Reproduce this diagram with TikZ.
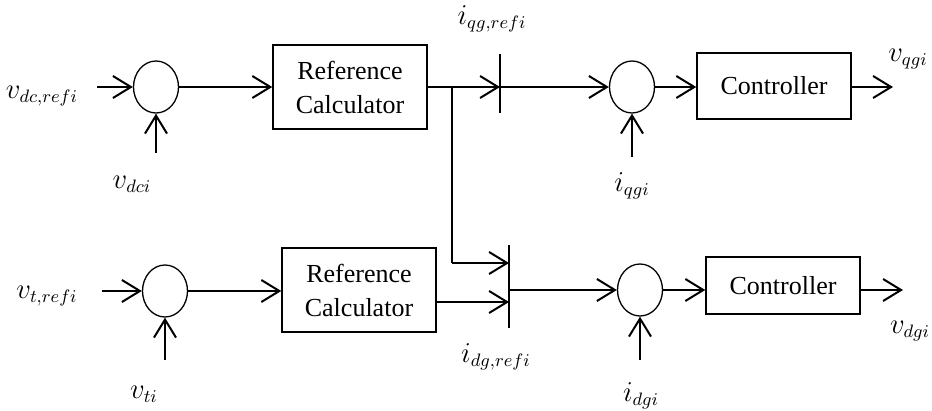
\documentclass[tikz,border=0pt]{standalone}
\usepackage{fontspec}
\setmainfont{Liberation Serif}
\usetikzlibrary{arrows.meta,shapes.geometric}
\tikzset{
  sig/.style={-{Straight Barb[length=9pt,width=11pt]},line width=1pt},
  wire/.style={line width=1pt},
  sumj/.style={ellipse,draw,line width=0.65pt,minimum width=22.5pt,minimum height=26pt,inner sep=0pt},
  blk/.style={draw,line width=0.75pt,minimum width=77pt,align=center,
    font=\rmfamily\fontsize{13}{17}\selectfont},
  bar/.style={line width=1pt},
  lbl/.style={font=\fontsize{13.5}{15}\selectfont,inner sep=0pt},
}
\begin{document}
\begin{tikzpicture}[x=0.5pt,y=-0.5pt]
  \useasboundingbox (0,0) rectangle (932,411);
  % ---- upper branch ----
  \node[sumj] (sum1) at (156,87) {};
  \node[blk,minimum height=42pt] (calc1) at (350,87) {Reference\\Calculator};
  \node[sumj] (sum2) at (632,87) {};
  \node[blk,minimum height=33pt] (ctrl1) at (774,86) {Controller};
  \coordinate (in1) at (97,87);
  \coordinate (fb1) at (156,153);
  \coordinate (j1) at (452,87);
  \coordinate (b1t) at (500,54);
  \coordinate (b1b) at (500,113);
  \coordinate (b1) at (500,87);
  \coordinate (fb2) at (632,157);
  \coordinate (out1) at (893,87);
  \node[lbl] (vdcref) at (42,96) {$v_{dc,refi}$};
  \node[lbl] (vdc) at (132,184) {$v_{dci}$};
  \node[lbl] (iqgref) at (492,19) {$i_{qg,refi}$};
  \node[lbl] (iqg) at (632,186) {$i_{qgi}$};
  \node[lbl] (vqg) at (908,59) {$v_{qgi}$};
  \draw[sig] (in1) -- (sum1.west);
  \draw[sig] (fb1) -- (sum1.south);
  \draw[sig] (sum1.east) -- (calc1.west);
  \draw[sig] (calc1.east) -- (b1);
  \draw[bar] (b1t) -- (b1b);
  \draw[sig] (b1) -- (sum2.west);
  \draw[sig] (fb2) -- (sum2.south);
  \draw[sig] (sum2.east) -- (ctrl1.west |- sum2);
  \draw[sig] (ctrl1.east |- out1) -- (out1);
  % ---- lower branch ----
  \node[sumj] (sum3) at (165,291) {};
  \node[blk,minimum height=42pt] (calc2) at (359,290) {Reference\\Calculator};
  \node[sumj] (sum4) at (640,290) {};
  \node[blk,minimum height=28.5pt] (ctrl2) at (783,285.5) {Controller};
  \coordinate (in2) at (102,291);
  \coordinate (fb3) at (165,360);
  \coordinate (j2) at (452,263);
  \coordinate (b2t) at (509,245);
  \coordinate (b2b) at (509,328);
  \coordinate (b2u) at (509,263);
  \coordinate (b2l) at (509,302);
  \coordinate (b2) at (509,290);
  \coordinate (fb4) at (640,360);
  \coordinate (out2) at (903,290);
  \node[lbl] (vtref) at (47,296) {$v_{t,refi}$};
  \node[lbl] (vt) at (144,394) {$v_{ti}$};
  \node[lbl] (idgref) at (496,357) {$i_{dg,refi}$};
  \node[lbl] (idg) at (641,396) {$i_{dgi}$};
  \node[lbl] (vdg) at (910,331) {$v_{dgi}$};
  \draw[sig] (in2) -- (sum3.west);
  \draw[sig] (fb3) -- (sum3.south);
  \draw[sig] (sum3.east) -- (calc2.west |- sum3);
  \draw[sig] (calc2.east |- b2l) -- (b2l);
  \draw[wire] (j1) -- (j2);
  \draw[sig] (j2) -- (b2u);
  \draw[bar] (b2t) -- (b2b);
  \draw[sig] (b2) -- (sum4.west);
  \draw[sig] (fb4) -- (sum4.south);
  \draw[sig] (sum4.east) -- (ctrl2.west |- sum4);
  \draw[sig] (ctrl2.east |- out2) -- (out2);
\end{tikzpicture}
\end{document}
